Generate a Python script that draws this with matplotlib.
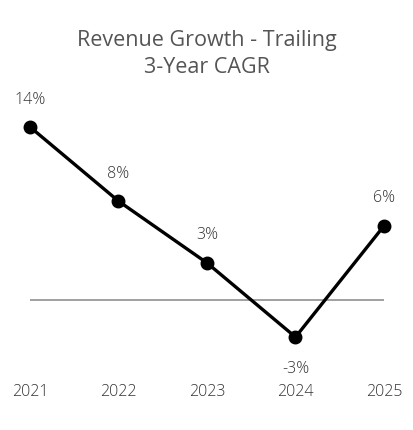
import matplotlib.pyplot as plt

years = ["2021", "2022", "2023", "2024", "2025"]
cagr = [14, 8, 3, -3, 6]
labels = ["14%", "8%", "3%", "-3%", "6%"]

plt.rcParams["font.family"] = ["Open Sans", "DejaVu Sans"]

W, H = 414, 430
fig = plt.figure(figsize=(W / 100, H / 100), dpi=100)
# axes box in pixels: x 30..384, y 100..360 (from top)
ax = fig.add_axes([30 / W, 1 - 360 / H, 354 / W, 260 / H])
ax.set_xlim(0, len(years) - 1)
ax.set_ylim(-60 / 12.36, 200 / 12.36)

x = range(len(years))
ax.axhline(0, color="#999999", linewidth=1.3, zorder=1)
ax.plot(x, cagr, color="black", linewidth=2.4, marker="o", markersize=9,
        clip_on=False, zorder=3)

for xi, v, lab in zip(x, cagr, labels):
    if v >= 0:
        ax.annotate(lab, (xi, v), xytext=(0, 14), textcoords="offset points",
                    ha="center", va="bottom", fontsize=11.5, color="#333333",
                    fontweight="light")
    else:
        ax.annotate(lab, (xi, v), xytext=(0, -17), textcoords="offset points",
                    ha="center", va="top", fontsize=11.5, color="#333333",
                    fontweight="light")

ax.set_xticks(list(x))
ax.set_xticklabels(years, fontsize=11.5, color="#333333", fontweight="light")
ax.tick_params(axis="x", length=0, pad=17)
ax.set_yticks([])
for s in ax.spines.values():
    s.set_visible(False)

fig.text(0.5, 1 - 54 / H, "Revenue Growth - Trailing\n3-Year CAGR", ha="center",
         va="center", fontsize=15.5, color="#555555", linespacing=1.4)

fig.savefig("out.png", dpi=100)
